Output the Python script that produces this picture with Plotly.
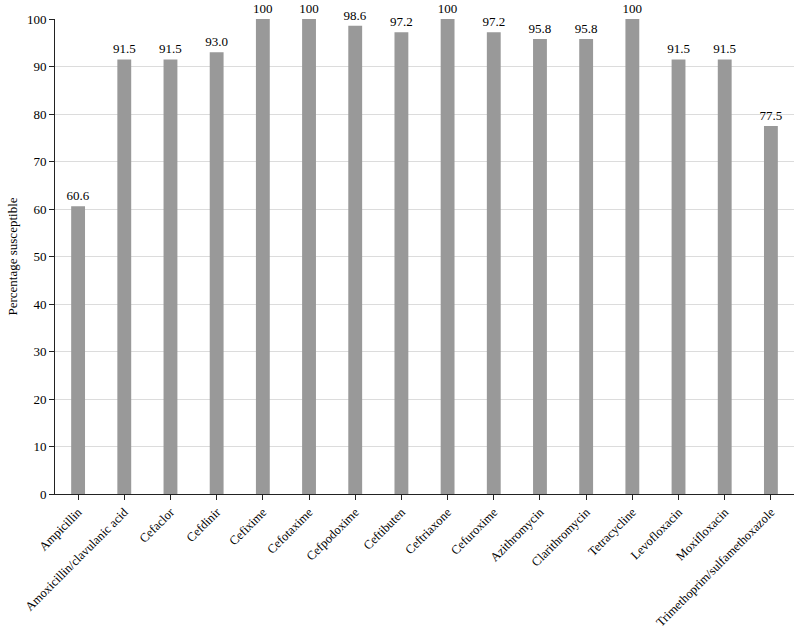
import plotly.graph_objects as go

antibiotics = ["Ampicillin", "Amoxicillin/clavulanic acid", "Cefaclor", "Cefdinir", "Cefixime",
               "Cefotaxime", "Cefpodoxime", "Ceftibuten", "Ceftriaxone", "Cefuroxime",
               "Azithromycin", "Clarithromycin", "Tetracycline", "Levofloxacin", "Moxifloxacin",
               "Trimethoprim/sulfamethoxazole"]
pct_susceptible = [60.6, 91.5, 91.5, 93.0, 100, 100, 98.6, 97.2, 100, 97.2, 95.8, 95.8, 100, 91.5, 91.5, 77.5]
bar_labels = ["100" if v == 100 else f"{v:.1f}" for v in pct_susceptible]
y_ticks = list(range(0, 101, 10))

font_family = "Liberation Serif"

fig = go.Figure(go.Bar(
    x=antibiotics, y=pct_susceptible, text=bar_labels,
    textposition="outside", cliponaxis=False, constraintext="none",
    textfont=dict(family=font_family, size=13, color="#000000"),
    marker=dict(color="#999999", line=dict(width=0)),
))

fig.update_layout(
    width=794, height=629,
    margin=dict(l=55, r=0, t=19, b=135, autoexpand=False),
    plot_bgcolor="white", paper_bgcolor="white",
    bargap=0.7, showlegend=False,
    font=dict(family=font_family, size=13, color="#000"),
)
fig.update_xaxes(
    tickangle=-45, showline=True, linecolor="#222", linewidth=1,
    ticks="outside", ticklen=5, tickcolor="#222", showgrid=False, automargin=False,
    tickfont=dict(family=font_family, size=12.5),
)
fig.update_yaxes(
    range=[0, 100], tickvals=y_ticks, showline=True, linecolor="#222", linewidth=1,
    ticks="outside", ticklen=5, tickcolor="#222", automargin=False,
    showgrid=True, gridcolor="#dcdcdc", gridwidth=1, zeroline=False,
    title=dict(text="Percentage susceptible", font=dict(family=font_family, size=13), standoff=6),
    tickfont=dict(family=font_family, size=13),
)

fig.write_html("out.html")
